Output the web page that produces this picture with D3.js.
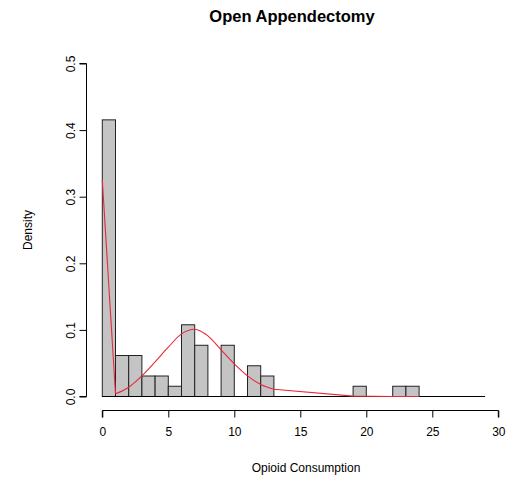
<!DOCTYPE html>
<html><head><meta charset="utf-8">
<script src="https://cdn.jsdelivr.net/npm/d3@7"></script>
<style>body{margin:0;background:#fff}svg{display:block}text{font-family:"Liberation Sans",Arial,sans-serif;fill:#000}</style>
</head><body>
<script>
const binStarts = [0,1,2,3,4,5,6,7,8,9,10,11,12,13,14,15,16,17,18,19,20,21,22,23];
const binCounts = [27,4,4,2,2,1,7,5,0,5,0,3,2,0,0,0,0,0,0,1,0,0,1,1];
const totalN = 65;
const curveX = [0,1,2,3,4,5,6,7,8,9,10,11,12,13,19,22,23,24];
const curveY = [0.325,0.004,0.014,0.031,0.052,0.074,0.094,0.101,0.091,0.07,0.049,0.031,0.018,0.011,0.0005,0,0,0];
const baseX = [0,29];
const xTicks = [0,5,10,15,20,25,30];
const yTicks = [0,0.1,0.2,0.3,0.4,0.5];
const title = "Open Appendectomy";
const xLabel = "Opioid Consumption";
const yLabel = "Density";

const W=508,H=484;
const svg=d3.select("body").append("svg").attr("width",W).attr("height",H);
const x=d3.scaleLinear().domain([0,30]).range([102.3,498.3]);
const y=d3.scaleLinear().domain([0,0.5]).range([396.5,63.5]);

// bars
svg.append("g").selectAll("rect").data(binStarts.map((s,i)=>({s,c:binCounts[i]})).filter(d=>d.c>0))
 .join("rect")
 .attr("x",d=>x(d.s)).attr("width",d=>x(d.s+1)-x(d.s))
 .attr("y",d=>y(d.c/totalN)).attr("height",d=>y(0)-y(d.c/totalN))
 .attr("fill","#c4c4c4").attr("stroke","#222").attr("stroke-width",1);

// baseline
svg.append("path").attr("d",d3.line()(baseX.map(v=>[x(v),y(0)])))
 .attr("stroke","#000").attr("stroke-width",1).attr("fill","none");

// red curve: straight at the ends, smooth through the middle hump
const pts = curveX.map((v,i)=>[x(v),y(curveY[i])]);
const segs = [
  {p:pts.slice(0,2), c:d3.curveLinear},
  {p:pts.slice(1,14), c:d3.curveMonotoneX},
  {p:pts.slice(13), c:d3.curveLinear}
];
svg.append("g").selectAll("path").data(segs).join("path")
 .attr("d",d=>d3.line().curve(d.c)(d.p))
 .attr("stroke","#e8283a").attr("stroke-width",1.1).attr("fill","none");

// x axis
const xa=svg.append("g").attr("transform","translate(0,410.5)")
 .call(d3.axisBottom(x).tickValues(xTicks).tickSize(7).tickPadding(10).tickFormat(d3.format("d")));
xa.select(".domain").attr("stroke","#000").attr("d",`M${x(0)},7V0H${x(30)}V7`);
xa.selectAll("text").attr("font-size","12px").attr("font-family","Liberation Sans, Arial, sans-serif").attr("fill","#000");

// y axis
const ya=svg.append("g").attr("transform","translate(86.5,0)")
 .call(d3.axisLeft(y).tickValues(yTicks).tickSize(7).tickFormat(d3.format(".1f")));
ya.select(".domain").attr("stroke","#000").attr("d",`M-7,${y(0)}H0V${y(0.5)}H-7`);
ya.selectAll(".tick text").attr("font-size","12px").attr("font-family","Liberation Sans, Arial, sans-serif")
 .attr("fill","#000").attr("text-anchor","middle").attr("x",0).attr("dy",0)
 .attr("transform","translate(-16,0) rotate(-90)").attr("dominant-baseline","central");

svg.append("text").attr("x",292).attr("y",22).attr("text-anchor","middle")
 .attr("font-size","16.5px").attr("font-weight","bold").text(title);
svg.append("text").attr("x",306).attr("y",472).attr("text-anchor","middle")
 .attr("font-size","12px").text(xLabel);
svg.append("text").attr("transform","translate(32,230) rotate(-90)").attr("text-anchor","middle")
 .attr("font-size","12px").text(yLabel);
</script>
</body></html>
